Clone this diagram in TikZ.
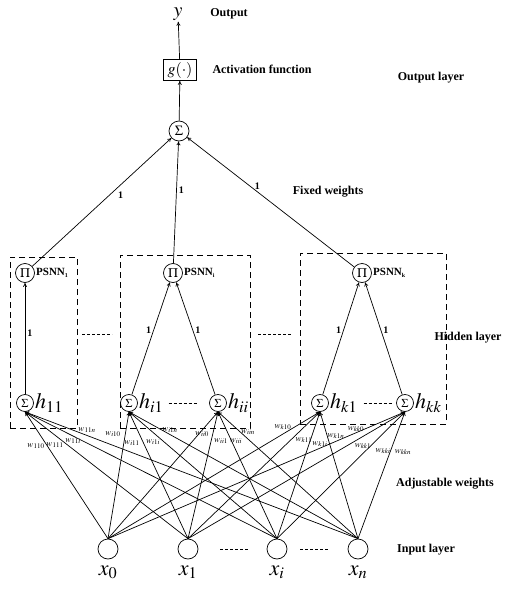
\documentclass[tikz,border=0pt]{standalone}
\usepackage{mathptmx}
\usepackage{fontspec}
\setmainfont{Liberation Serif}
\usetikzlibrary{arrows.meta, positioning}

\begin{document}
\begin{tikzpicture}[x=1pt, y=-1pt, line width=0.7pt, >={To[length=4pt, width=4pt]},
        neuron/.style={circle, draw, inner sep=0pt, minimum size=#1},
        sig/.style={neuron=17pt, font=\fontsize{12}{12}\selectfont},
        prod/.style={neuron=19pt, font=\fontsize{13}{13}\selectfont},
        hlab/.style={inner sep=1pt, font=\fontsize{22}{22}\selectfont},
        xlab/.style={inner sep=0pt, font=\fontsize{22}{22}\selectfont},
        psnn/.style={inner sep=1pt, font=\fontsize{11}{11}\selectfont\bfseries},
        layer/.style={font=\fontsize{12}{12}\selectfont\bfseries},
        one/.style={inner sep=2pt, font=\fontsize{10}{10}\selectfont\bfseries},
        wlab/.style={inner sep=0pt, font=\fontsize{9}{9}\selectfont},
        dashbox/.style={draw, dash pattern=on 6pt off 4pt, line width=0.9pt},
        dots/.style={dash pattern=on 3pt off 2pt, line width=1pt}]
    \useasboundingbox (0,0) rectangle (522,589);

    % output layer
    \node[neuron=20pt, font=\fontsize{14}{14}\selectfont] (out) at (179,131) {$\Sigma$};
    \node[draw, minimum width=33pt, minimum height=21pt, inner sep=1pt,
          font=\fontsize{16}{16}\selectfont] (act) at (180,70) {$g(\cdot)$};
    \node[inner sep=1pt, font=\fontsize{20}{20}\selectfont] (y) at (178,14) {$y$};
    \draw[->] (out) -- (act);
    \draw[->] (act) -- (y);

    % hidden layer
    \node[dashbox, minimum width=67pt, minimum height=171pt] (box1) at (43.5,342.5) {};
    \node[dashbox, minimum width=130pt, minimum height=173pt] (box2) at (185,341.5) {};
    \node[dashbox, minimum width=146pt, minimum height=171pt] (box3) at (373,338.5) {};

    \node[prod] (p1) at (25,273) {$\Pi$};
    \node[prod] (pi) at (173,273) {$\Pi$};
    \node[prod] (pk) at (362,273) {$\Pi$};
    \node[psnn, right=0pt of p1] (n1) {PSNN\textsubscript{\fontsize{6}{6}\selectfont 1}};
    \node[psnn, right=0pt of pi] (ni) {PSNN\textsubscript{\fontsize{6}{6}\selectfont i}};
    \node[psnn, right=0pt of pk] (nk) {PSNN\textsubscript{\fontsize{6}{6}\selectfont k}};

    \node[sig] (s11) at (25,403) {$\Sigma$};
    \node[sig] (si1) at (129,403) {$\Sigma$};
    \node[sig] (sii) at (218,403) {$\Sigma$};
    \node[sig] (sk1) at (320,403) {$\Sigma$};
    \node[sig] (skk) at (405,403) {$\Sigma$};
    \node[hlab, right=0pt of s11] (h11) {$h_{11}$};
    \node[hlab, right=0pt of si1] (hi1) {$h_{i1}$};
    \node[hlab, right=0pt of sii] (hii) {$h_{ii}$};
    \node[hlab, right=0pt of sk1] (hk1) {$h_{k1}$};
    \node[hlab, right=0pt of skk] (hkk) {$h_{kk}$};

    \draw[dots, shorten <=4pt, shorten >=11pt] (hi1) -- (sii);
    \draw[dots, shorten <=5pt, shorten >=4pt] (hk1) -- (skk);
    \draw[dots] (82,334) -- (112,334);
    \draw[dots] (258,334) -- (292,334);

    \draw[->] (s11) -- node[pos=0.55, right, one] {1} (p1);
    \draw[->] (si1) -- node[pos=0.57, left, one] {1} (pi);
    \draw[->] (sii) -- node[pos=0.57, right, one] {1} (pi);
    \draw[->] (sk1) -- node[pos=0.57, left, one] {1} (pk);
    \draw[->] (skk) -- node[pos=0.57, right, one] {1} (pk);

    % fixed weights
    \draw[->] (p1) -- node[pos=0.6, below right, one] {1} (out);
    \draw[->] (pi) -- node[pos=0.6, right, one] {1} (out);
    \draw[->] (pk) -- node[pos=0.58, above, one] {1} (out);

    % input layer
    \node[neuron=20pt] (x0) at (108,549) {};
    \node[neuron=20pt] (x1) at (188,549) {};
    \node[neuron=20pt] (xi) at (277,549) {};
    \node[neuron=20pt] (xn) at (358,549) {};
    \node[xlab, below=6pt of x0] (lx0) {$x_0$};
    \node[xlab, below=6pt of x1] (lx1) {$x_1$};
    \node[xlab, below=6pt of xi] (lxi) {$x_i$};
    \node[xlab, below=6pt of xn] (lxn) {$x_n$};
    \draw[dots, shorten <=22pt, shorten >=19pt] (x1) -- (xi);
    \draw[dots, shorten <=13pt, shorten >=18pt] (xi) -- (xn);

    \foreach \a in {x0,x1,xi,xn}
        \foreach \b in {s11,si1,sii,sk1,skk}
            \draw[->] (\a.north) -- (\b.south);

    % adjustable weights
    \foreach \px/\py/\t in {36/446/110, 55/445/111, 73/441/11i, 87/430/11n,
            113/434/i10, 132/443/i11, 153/442/i1i, 170/430/i1n,
            202/434/ii0, 221/441/ii1, 236/441/iii, 248/432/iin,
            283/427/k10, 304/440/k11, 320/444/k1i, 336/436/k1n,
            356/429/kk0, 363/446/kk1, 383/451/kki, 403/452/kkn}
        \node[wlab] (w\t) at (\px,\py) {$w_{\t}$};

    % layer texts
    \node[layer] (t1) at (229,14) {Output};
    \node[layer] (t2) at (262,69) {Activation function};
    \node[layer] (t3) at (431,78) {Output layer};
    \node[layer] (t4) at (328,192) {Fixed weights};
    \node[layer] (t5) at (468,338) {Hidden layer};
    \node[layer] (t6) at (445,484) {Adjustable weights};
    \node[layer] (t7) at (426,550) {Input layer};
\end{tikzpicture}
\end{document}
